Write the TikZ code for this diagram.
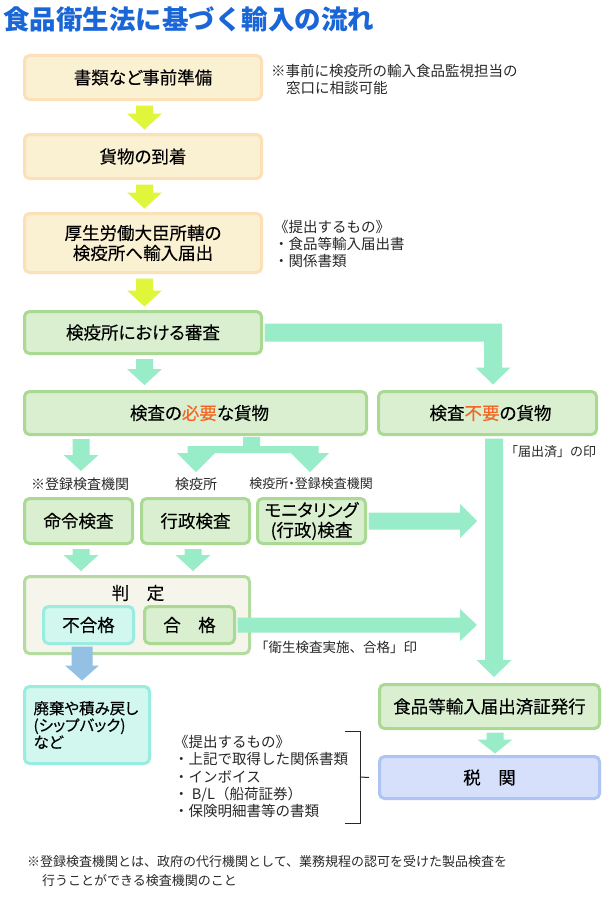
\documentclass[tikz,border=0pt]{standalone}
\usepackage{fontspec}
\setmainfont{Noto Sans CJK JP}
\newfontfamily\boxfam[RawFeature=+palt, FakeBold=0.25]{Noto Sans CJK JP}
\newfontfamily\paltfam[RawFeature=+palt]{Noto Sans CJK JP}
\usetikzlibrary{calc}
\definecolor{titleblue}{RGB}{26,102,214}
\definecolor{beigefill}{RGB}{250,240,210}
\definecolor{beigeline}{RGB}{252,224,184}
\definecolor{greenfill}{RGB}{217,239,207}
\definecolor{greenline}{RGB}{169,217,147}
\definecolor{mint}{RGB}{153,236,200}
\definecolor{yel}{RGB}{224,246,58}
\definecolor{bluearrow}{RGB}{147,192,227}
\definecolor{cyanfill}{RGB}{210,247,239}
\definecolor{cyanline}{RGB}{153,237,224}
\definecolor{custfill}{RGB}{214,224,251}
\definecolor{custline}{RGB}{174,196,242}
\definecolor{judgefill}{RGB}{245,245,236}
\definecolor{judgeline}{RGB}{181,220,160}
\definecolor{accent}{RGB}{242,101,34}
\definecolor{notegray}{RGB}{40,40,40}
\newcommand\boxfont{\boxfam\fontsize{17.5pt}{20pt}\selectfont}
% down block arrow: from, to, colour, half shaft, half head, head length
\newcommand\dar[6]{\fill[#3] let \p1=(#1), \p2=(#2) in
  (\x1-#4pt,\y1) -- (\x1+#4pt,\y1) -- (\x1+#4pt,\y2+#6pt) -- (\x1+#5pt,\y2+#6pt)
  -- (\x1,\y2) -- (\x1-#5pt,\y2+#6pt) -- (\x1-#4pt,\y2+#6pt) -- cycle;}
% right block arrow
\newcommand\rar[6]{\fill[#3] let \p1=(#1), \p2=(#2) in
  (\x1,\y1+#4pt) -- (\x2-#6pt,\y1+#4pt) -- (\x2-#6pt,\y1+#5pt) -- (\x2,\y1)
  -- (\x2-#6pt,\y1-#5pt) -- (\x2-#6pt,\y1-#4pt) -- (\x1,\y1-#4pt) -- cycle;}
\tikzset{
  box/.style={rounded corners=5pt, line width=3pt, inner sep=0pt, align=center,
    font=\boxfont, text=black},
  beigebox/.style={box, fill=beigefill, draw=beigeline},
  greenbox/.style={box, fill=greenfill, draw=greenline},
  cyanbox/.style={box, fill=cyanfill, draw=cyanline},
  custbox/.style={box, fill=custfill, draw=custline},
  judgebox/.style={box, fill=judgefill, draw=judgeline},
  note/.style={align=left, inner sep=0pt, text=notegray,
    font={\fontsize{14.5pt}{17.2pt}\selectfont}},
  smalllab/.style={inner sep=0pt, text=notegray, font={\fontsize{14pt}{16pt}\selectfont}},
}
\begin{document}
\begin{tikzpicture}[x=1pt,y=-1pt]
\fill[white] (0,0) rectangle (603,899);
\useasboundingbox (0,0) rectangle (603,899);

% title
\node[anchor=west, inner sep=0pt, text=titleblue,
  font={\fontsize{26.5pt}{30pt}\selectfont\bfseries}] (title) at (3,19) {食品衛生法に基づく輸入の流れ};

% main boxes
\node[beigebox, minimum width=237pt, minimum height=44pt] (b1) at (143,77.5) {書類など事前準備};
\node[beigebox, minimum width=237pt, minimum height=44pt] (b2) at (143,156.5) {貨物の到着};
\node[beigebox, minimum width=237pt, minimum height=59pt] (b3) at (143,243) {厚生労働大臣所轄の\\検疫所へ輸入届出};
\node[greenbox, minimum width=237pt, minimum height=42pt] (b4) at (143,332.5) {検疫所における審査};
\node[greenbox, minimum width=342pt, minimum height=43pt] (b5) at (195.5,413) {\hspace*{8pt}検査の\textcolor{accent}{必要}な貨物};
\node[greenbox, minimum width=218pt, minimum height=43pt] (b6) at (487.5,413) {\hspace*{6pt}検査\textcolor{accent}{不要}の貨物};

% notes
\node[note, anchor=west] (n1) at (271,79.5) {※事前に検疫所の輸入食品監視担当の\\\hspace*{15pt}窓口に相談可能};
\node[note, anchor=west] (n2) at (274,244) {《提出するもの》\\・食品等輸入届出書\\・関係書類};

% inspection row
\node[smalllab] (l1) at (80,484) {※登録検査機関};
\node[smalllab] (l2) at (196,484) {検疫所};
\node[smalllab, font={\paltfam\fontsize{13pt}{16pt}\selectfont}] (l3) at (311,484) {検疫所・登録検査機関};
\node[greenbox, minimum width=108pt, minimum height=45pt] (c1) at (78.5,521) {命令検査};
\node[greenbox, minimum width=108pt, minimum height=45pt] (c2) at (195.5,521) {行政検査};
\node[greenbox, minimum width=108pt, minimum height=45pt] (c3) at (311.5,521) {モニタリング\\(行政)検査};
\node[smalllab, anchor=west, font={\fontsize{13pt}{16pt}\selectfont}] (l4) at (505,452) {「届出済」の印};

% judgement
\node[judgebox, minimum width=225pt, minimum height=77pt] (jd) at (137,615) {};
\node[inner sep=0pt, font=\boxfont] (jdt) at (138,593) {判　定};
\node[cyanbox, minimum width=90pt, minimum height=37pt] (ng) at (88.5,625) {不合格};
\node[greenbox, minimum width=90pt, minimum height=37pt] (ok) at (189.5,625) {合　格};
\node[smalllab, anchor=west, font={\fontsize{13.5pt}{16pt}\selectfont}] (l5) at (255,647) {「衛生検査実施、合格」印};

% bottom
\node[cyanbox, minimum width=125pt, minimum height=77pt, text width=107pt, align=left,
  font={\boxfam\fontsize{15.5pt}{17pt}\selectfont}] (dp) at (87,725) {廃棄や積み戻し\\(シップバック)\\など};
\node[greenbox, minimum width=220pt, minimum height=44pt] (is) at (489.5,706.5) {食品等輸入届出済証発行};
\node[custbox, minimum width=220pt, minimum height=42pt] (cu) at (489.5,777.5) {税　関};
\node[note, anchor=west] (n3) at (174,776.5) {《提出するもの》\\・上記で取得した関係書類\\・インボイス\\・ B/L（船荷証券）\\・保険明細書等の書類};
\draw[notegray, line width=1pt] (345,731) -- (360,731) -- (360,823) -- (345,823);
\draw[notegray, line width=1pt] (360,777) -- ($(cu.west)+(-9,0)$);

\node[note, anchor=west, font={\fontsize{13pt}{19pt}\selectfont}] (ft) at (27,871.5)
  {※登録検査機関とは、政府の代行機関として、業務規程の認可を受けた製品検査を\\\hspace*{15pt}行うことができる検査機関のこと};

% arrows
\dar{$(b1.south)+(1.5,4.5)$}{$(b2.north)+(0,-3.5)$}{yel}{8.5}{17.5}{16}
\dar{$(b2.south)+(1.5,4.5)$}{$(b3.north)+(0,-3.5)$}{yel}{8.5}{17.5}{16}
\dar{$(b3.south)+(1.5,4.5)$}{$(b4.north)+(0,-3.5)$}{yel}{8.5}{17.5}{16}
\dar{$(b4.south)+(1.5,4)$}{$(b5.north)+(0,-5)$}{mint}{8.5}{17.5}{16}
\fill[mint] let \p1=(b4.east), \p2=(b6.north) in
  (\x1+1.5pt,\y1+9pt) -- (\x2+14.5pt,\y1+9pt) -- (\x2+14.5pt,\y2+22.5pt) -- (\x2+23pt,\y2+22.5pt)
  -- (\x2+5.5pt,\y2+5.5pt) -- (\x2-12pt,\y2+22.5pt) -- (\x2-3.5pt,\y2+22.5pt)
  -- (\x2-3.5pt,\y1-9pt) -- (\x1+1.5pt,\y1-9pt) -- cycle;
\dar{$(c1.north |- b5.south)+(2.5,3)$}{$(c1.north)+(0,-26)$}{mint}{8.5}{17.5}{16}
\fill[mint] (243,437) -- (260,437) -- (260,446) -- (318.5,446) -- (318.5,453) -- (329,453)
  -- (310,472) -- (291,453) -- (215,453) -- (196,472) -- (177,453) -- (187.5,453)
  -- (187.5,446) -- (243,446) -- cycle;
\dar{$(b6.south)+(6.5,2.5)$}{$(is.north)+(0,-6)$}{mint}{9}{17.5}{17}
\rar{$(c3.east)+(1.5,0)$}{$(b6.south)+(-10.5,0)$}{mint}{8.5}{17}{17}
\dar{$(c1.south)+(2.5,4)$}{$(jd.north)+(0,-4)$}{mint}{8.5}{17.5}{16}
\dar{$(c2.south)+(-2.5,4)$}{$(jd.north)+(0,-4)$}{mint}{8.5}{17.5}{16}
\rar{$(ok.east)+(1.5,0)$}{$(b6.south)+(-10.5,0)$}{mint}{7.5}{16}{17}
\dar{$(ng.south)+(-6.5,1.5)$}{$(dp.north)+(0,-4.5)$}{bluearrow}{10.5}{17}{15}
\dar{$(is.south)+(5.5,2.5)$}{$(cu.north)+(0,-1.5)$}{mint}{8.5}{17.5}{14}
\end{tikzpicture}
\end{document}
